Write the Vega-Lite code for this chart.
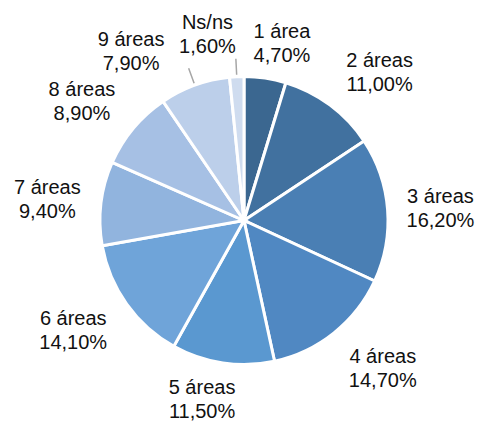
{
  "$schema": "https://vega.github.io/schema/vega-lite/v6.json",
  "width": 472,
  "height": 401,
  "autosize": {"type": "none"},
  "padding": {"left": 8, "top": 20, "right": 0, "bottom": 0},
  "background": "white",
  "config": {
    "view": {"stroke": null},
    "locale": {"number": {"decimal": ",", "thousands": ".", "grouping": [3], "currency": ["", " €"]}},
    "text": {"font": "Liberation Sans", "fontSize": 20, "color": "#111111", "align": "center", "baseline": "middle", "radius": 190}
  },
  "data": {
    "values": [
      {"categoria": "1 área", "valor": 0.047, "orden": 1},
      {"categoria": "2 áreas", "valor": 0.110, "orden": 2},
      {"categoria": "3 áreas", "valor": 0.162, "orden": 3},
      {"categoria": "4 áreas", "valor": 0.147, "orden": 4},
      {"categoria": "5 áreas", "valor": 0.115, "orden": 5},
      {"categoria": "6 áreas", "valor": 0.141, "orden": 6},
      {"categoria": "7 áreas", "valor": 0.094, "orden": 7},
      {"categoria": "8 áreas", "valor": 0.089, "orden": 8},
      {"categoria": "9 áreas", "valor": 0.079, "orden": 9},
      {"categoria": "Ns/ns", "valor": 0.016, "orden": 10}
    ]
  },
  "encoding": {
    "theta": {"field": "valor", "type": "quantitative", "stack": true},
    "order": {"field": "orden", "type": "quantitative"},
    "detail": {"field": "categoria", "type": "nominal"}
  },
  "layer": [
    {
      "mark": {"type": "arc", "outerRadius": 144, "stroke": "white", "strokeWidth": 3},
      "encoding": {
        "color": {
          "field": "categoria",
          "type": "nominal",
          "legend": null,
          "scale": {
            "domain": ["1 área", "2 áreas", "3 áreas", "4 áreas", "5 áreas", "6 áreas", "7 áreas", "8 áreas", "9 áreas", "Ns/ns"],
            "range": ["#3b6790", "#41719f", "#4a7fb4", "#5088c2", "#5a98d0", "#6fa4d9", "#91b4de", "#a6c0e4", "#bccfea", "#cfdcef"]
          }
        }
      }
    },
    {
      "mark": {"type": "arc", "innerRadius": 146, "outerRadius": 162, "padAngle": 1, "filled": false, "color": "#a6a6a6", "strokeWidth": 1.5},
      "encoding": {"strokeOpacity": {"condition": {"test": "datum.categoria === 'Ns/ns' || datum.categoria === '9 áreas'", "value": 1}, "value": 0}}
    },
    {"mark": {"type": "text", "dx": 10, "dy": -1}, "encoding": {"text": {"condition": {"test": "datum.categoria === '1 área'", "field": "categoria", "type": "nominal"}, "value": ""}}},
    {"mark": {"type": "text", "dx": 10, "dy": 23}, "encoding": {"text": {"condition": {"test": "datum.categoria === '1 área'", "field": "valor", "type": "quantitative", "format": ".2%"}, "value": ""}}},
    {"mark": {"type": "text", "dx": 22, "dy": -7}, "encoding": {"text": {"condition": {"test": "datum.categoria === '2 áreas'", "field": "categoria", "type": "nominal"}, "value": ""}}},
    {"mark": {"type": "text", "dx": 22, "dy": 17}, "encoding": {"text": {"condition": {"test": "datum.categoria === '2 áreas'", "field": "valor", "type": "quantitative", "format": ".2%"}, "value": ""}}},
    {"mark": {"type": "text", "dx": 7, "dy": -9}, "encoding": {"text": {"condition": {"test": "datum.categoria === '3 áreas'", "field": "categoria", "type": "nominal"}, "value": ""}}},
    {"mark": {"type": "text", "dx": 7, "dy": 15}, "encoding": {"text": {"condition": {"test": "datum.categoria === '3 áreas'", "field": "valor", "type": "quantitative", "format": ".2%"}, "value": ""}}},
    {"mark": {"type": "text", "dx": 20, "dy": -12}, "encoding": {"text": {"condition": {"test": "datum.categoria === '4 áreas'", "field": "categoria", "type": "nominal"}, "value": ""}}},
    {"mark": {"type": "text", "dx": 20, "dy": 12}, "encoding": {"text": {"condition": {"test": "datum.categoria === '4 áreas'", "field": "valor", "type": "quantitative", "format": ".2%"}, "value": ""}}},
    {"mark": {"type": "text", "dx": -14, "dy": -20}, "encoding": {"text": {"condition": {"test": "datum.categoria === '5 áreas'", "field": "categoria", "type": "nominal"}, "value": ""}}},
    {"mark": {"type": "text", "dx": -14, "dy": 4}, "encoding": {"text": {"condition": {"test": "datum.categoria === '5 áreas'", "field": "valor", "type": "quantitative", "format": ".2%"}, "value": ""}}},
    {"mark": {"type": "text", "dx": -16, "dy": -12}, "encoding": {"text": {"condition": {"test": "datum.categoria === '6 áreas'", "field": "categoria", "type": "nominal"}, "value": ""}}},
    {"mark": {"type": "text", "dx": -16, "dy": 12}, "encoding": {"text": {"condition": {"test": "datum.categoria === '6 áreas'", "field": "valor", "type": "quantitative", "format": ".2%"}, "value": ""}}},
    {"mark": {"type": "text", "dx": -8, "dy": -10}, "encoding": {"text": {"condition": {"test": "datum.categoria === '7 áreas'", "field": "categoria", "type": "nominal"}, "value": ""}}},
    {"mark": {"type": "text", "dx": -8, "dy": 14}, "encoding": {"text": {"condition": {"test": "datum.categoria === '7 áreas'", "field": "valor", "type": "quantitative", "format": ".2%"}, "value": ""}}},
    {"mark": {"type": "text", "dx": -16, "dy": -9}, "encoding": {"text": {"condition": {"test": "datum.categoria === '8 áreas'", "field": "categoria", "type": "nominal"}, "value": ""}}},
    {"mark": {"type": "text", "dx": -16, "dy": 15}, "encoding": {"text": {"condition": {"test": "datum.categoria === '8 áreas'", "field": "valor", "type": "quantitative", "format": ".2%"}, "value": ""}}},
    {"mark": {"type": "text", "dx": -48, "dy": -2}, "encoding": {"text": {"condition": {"test": "datum.categoria === '9 áreas'", "field": "categoria", "type": "nominal"}, "value": ""}}},
    {"mark": {"type": "text", "dx": -48, "dy": 22}, "encoding": {"text": {"condition": {"test": "datum.categoria === '9 áreas'", "field": "valor", "type": "quantitative", "format": ".2%"}, "value": ""}}},
    {"mark": {"type": "text", "dx": -27, "dy": -8}, "encoding": {"text": {"condition": {"test": "datum.categoria === 'Ns/ns'", "field": "categoria", "type": "nominal"}, "value": ""}}},
    {"mark": {"type": "text", "dx": -27, "dy": 16}, "encoding": {"text": {"condition": {"test": "datum.categoria === 'Ns/ns'", "field": "valor", "type": "quantitative", "format": ".2%"}, "value": ""}}}
  ]
}
